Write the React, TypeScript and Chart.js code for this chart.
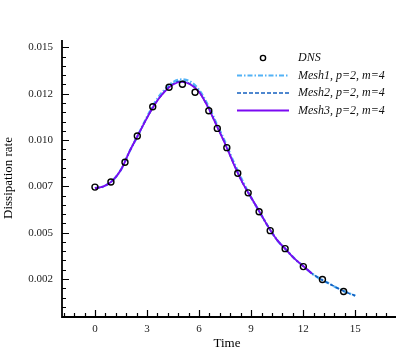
import React, { useEffect, useRef } from "react";
import { Chart, registerables } from "chart.js";

Chart.register(...registerables);

const dnsTime = [0, 0.92, 1.73, 2.44, 3.33, 4.27, 5.04, 5.77, 6.56, 7.05, 7.6, 8.23, 8.83, 9.46, 10.1, 10.96, 12.01, 13.11, 14.33];
const dnsRate = [0.00746, 0.00774, 0.0088, 0.01022, 0.0118, 0.01285, 0.01301, 0.01258, 0.01158, 0.01063, 0.00959, 0.00821, 0.00715, 0.00613, 0.00511, 0.00414, 0.00317, 0.00247, 0.00183];

const meshTime = [0, 0.5, 1, 1.5, 2, 2.5, 3, 3.5, 4, 4.5, 5, 5.5, 6, 6.5, 7, 7.5, 8, 8.5, 9, 9.5, 10, 10.5, 11, 11.5, 12, 12.5, 13, 13.5, 14, 14.5, 15];
const mesh1Rate = [0.0074, 0.0075, 0.0078, 0.0084, 0.0094, 0.0103, 0.01125, 0.0121, 0.0127, 0.01312, 0.01327, 0.01315, 0.0127, 0.0119, 0.0109, 0.0099, 0.0088, 0.0078, 0.0069, 0.0061, 0.0053, 0.0046, 0.0041, 0.0036, 0.0032, 0.0028, 0.0025, 0.00225, 0.002, 0.00178, 0.0016];
const mesh2Rate = [0.0074, 0.0075, 0.0078, 0.0084, 0.0094, 0.0103, 0.0112, 0.012, 0.0126, 0.01303, 0.01317, 0.01302, 0.0126, 0.0118, 0.0108, 0.0098, 0.0087, 0.0077, 0.0069, 0.0061, 0.0053, 0.0046, 0.0041, 0.0036, 0.0032, 0.0028, 0.0025, 0.00225, 0.002, 0.00178, 0.0016];
const mesh3Rate = [0.0074, 0.0075, 0.0078, 0.0084, 0.0094, 0.0103, 0.0112, 0.012, 0.0126, 0.013, 0.01314, 0.013, 0.0126, 0.0118, 0.0108, 0.0098, 0.0087, 0.0077, 0.0069, 0.0061, 0.0053, 0.0046, 0.0041, 0.0036, 0.0032, 0.0028];

const xMajorTicks = [0, 3, 6, 9, 12, 15];
const xTickLabels = ["0", "3", "6", "9", "12", "15"];
const yMajorTicks = [0.015, 0.0125, 0.01, 0.0075, 0.005, 0.0025];
const yTickLabels = ["0.015", "0.012", "0.010", "0.007", "0.005", "0.002"];

const seriesNames = ["DNS", "Mesh1, p=2, m=4", "Mesh2, p=2, m=4", "Mesh3, p=2, m=4"];
const xTitle = "Time";
const yTitle = "Dissipation rate";

const X_MIN = -1.9, X_MAX = 17.35, X_MINOR = 0.6;
const Y_MIN = 0.00045, Y_MAX = 0.0154, Y_MINOR = 0.0005;

const COL1 = "#52b2f6";
const COL2 = "#1460c0";
const COL3 = "#7b0af2";

const toPts = (xs: number[], ys: number[]) => ys.map((v, i) => ({ x: xs[i], y: v }));

const axesPlugin = {
  id: "tecAxes",
  afterDraw(chart: any) {
    const { ctx, chartArea: a, scales } = chart;
    const xs = scales.x, ys = scales.y;
    ctx.save();
    ctx.strokeStyle = "#000";
    ctx.lineWidth = 1.8;
    ctx.beginPath();
    ctx.moveTo(a.left, a.top);
    ctx.lineTo(a.left, a.bottom);
    ctx.lineTo(a.right, a.bottom);
    ctx.stroke();
    ctx.lineWidth = 1.2;
    // x minor ticks
    ctx.beginPath();
    for (let k = Math.ceil(X_MIN / X_MINOR); k * X_MINOR <= X_MAX; k++) {
      const px = Math.round(xs.getPixelForValue(k * X_MINOR)) + 0.5;
      ctx.moveTo(px, a.bottom);
      ctx.lineTo(px, a.bottom - 4);
    }
    for (const v of xMajorTicks) {
      const px = Math.round(xs.getPixelForValue(v)) + 0.5;
      ctx.moveTo(px, a.bottom);
      ctx.lineTo(px, a.bottom - 7);
    }
    for (let k = Math.ceil(Y_MIN / Y_MINOR - 1e-6); k * Y_MINOR <= Y_MAX + 1e-9; k++) {
      const py = Math.round(ys.getPixelForValue(k * Y_MINOR)) + 0.5;
      ctx.moveTo(a.left, py);
      ctx.lineTo(a.left + 4, py);
    }
    for (const v of yMajorTicks) {
      const py = Math.round(ys.getPixelForValue(v)) + 0.5;
      ctx.moveTo(a.left, py);
      ctx.lineTo(a.left + 7, py);
    }
    ctx.stroke();

    ctx.fillStyle = "#222";
    ctx.font = '11px "Liberation Serif", serif';
    ctx.textAlign = "center";
    ctx.textBaseline = "middle";
    xMajorTicks.forEach((v, i) => {
      ctx.fillText(xTickLabels[i], xs.getPixelForValue(v), a.bottom + 12);
    });
    ctx.textAlign = "right";
    yMajorTicks.forEach((v, i) => {
      ctx.fillText(yTickLabels[i], a.left - 9, ys.getPixelForValue(v));
    });

    ctx.fillStyle = "#000";
    ctx.font = '13px "Liberation Serif", serif';
    ctx.textAlign = "center";
    ctx.fillText(xTitle, (a.left + a.right) / 2 - 2, a.bottom + 27);
    ctx.save();
    ctx.translate(9, 178);
    ctx.rotate(-Math.PI / 2);
    ctx.fillText(yTitle, 0, 0);
    ctx.restore();

    // legend
    const lx0 = 237, lx1 = 289, tx = 298;
    const rows = [58, 75.5, 93, 110.5];
    ctx.font = 'italic 12px "Liberation Serif", serif';
    ctx.textAlign = "left";
    ctx.fillStyle = "#111";
    seriesNames.forEach((n, i) => ctx.fillText(n, tx, rows[i]));
    ctx.strokeStyle = "#000";
    ctx.lineWidth = 1.4;
    ctx.beginPath();
    ctx.arc(263, rows[0], 2.6, 0, Math.PI * 2);
    ctx.stroke();
    const styles = [
      { c: COL1, w: 2.2, d: [5, 2, 1.5, 2] },
      { c: COL2, w: 1.6, d: [4, 2] },
      { c: COL3, w: 2, d: [] },
    ];
    styles.forEach((s, i) => {
      ctx.strokeStyle = s.c;
      ctx.lineWidth = s.w;
      ctx.setLineDash(s.d);
      ctx.beginPath();
      ctx.moveTo(lx0, rows[i + 1]);
      ctx.lineTo(lx1, rows[i + 1]);
      ctx.stroke();
    });
    ctx.setLineDash([]);
    ctx.restore();
  },
};

export default function App() {
  const ref = useRef<HTMLCanvasElement | null>(null);
  useEffect(() => {
    document.body.style.margin = "0";
    const canvas = ref.current;
    if (!canvas) return;
    const chart = new Chart(canvas, {
      type: "scatter",
      data: {
        datasets: [
          {
            label: seriesNames[0],
            data: toPts(dnsTime, dnsRate),
            showLine: false,
            pointRadius: 3,
            pointBorderWidth: 1.4,
            pointBorderColor: "#000",
            pointBackgroundColor: "rgba(0,0,0,0)",
          },
          {
            label: seriesNames[3],
            data: toPts(meshTime, mesh3Rate),
            showLine: true,
            pointRadius: 0,
            borderColor: COL3,
            borderWidth: 1.8,
            cubicInterpolationMode: "monotone",
          },
          {
            label: seriesNames[2],
            data: toPts(meshTime, mesh2Rate),
            showLine: true,
            pointRadius: 0,
            borderColor: COL2,
            borderWidth: 1.6,
            borderDash: [4, 2],
            cubicInterpolationMode: "monotone",
          },
          {
            label: seriesNames[1],
            data: toPts(meshTime, mesh1Rate),
            showLine: true,
            pointRadius: 0,
            borderColor: COL1,
            borderWidth: 2.4,
            borderDash: [5, 2, 1.5, 2],
            cubicInterpolationMode: "monotone",
          },
        ],
      },
      options: {
        responsive: false,
        animation: false,
        devicePixelRatio: 1,
        layout: { padding: { left: 62, right: 19, top: 40, bottom: 40 } },
        plugins: { legend: { display: false }, tooltip: { enabled: false } },
        scales: {
          x: { type: "linear", min: X_MIN, max: X_MAX, display: false },
          y: { type: "linear", min: Y_MIN, max: Y_MAX, display: false },
        },
      },
      plugins: [axesPlugin],
    } as any);
    return () => chart.destroy();
  }, []);
  return (
    <div style={{ width: 415, height: 357 }}>
      <canvas ref={ref} width={415} height={357} />
    </div>
  );
}
